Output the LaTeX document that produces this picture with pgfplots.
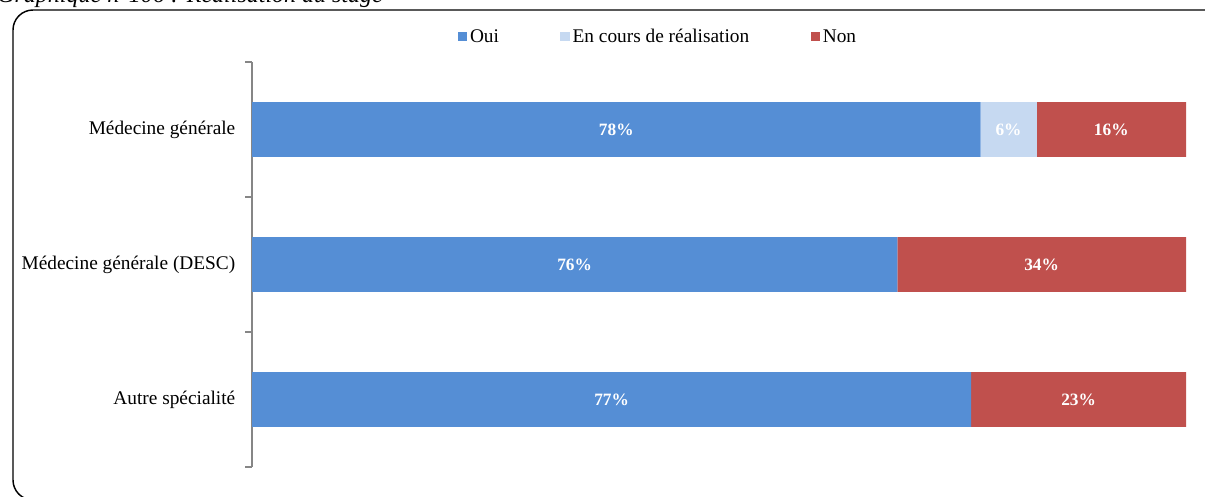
\documentclass[border=0pt]{standalone}
\usepackage{fontspec}
\setmainfont{Liberation Serif}
\usepackage{pgfplots}
\pgfplotsset{compat=1.18}
\definecolor{oui}{RGB}{85,142,213}
\definecolor{encours}{RGB}{198,217,241}
\definecolor{non}{RGB}{192,80,77}
\definecolor{axisgray}{RGB}{134,134,134}

\begin{document}
\begin{tikzpicture}[x=0.75pt,y=0.75pt]
\useasboundingbox (0,0) rectangle (1205,496);
\clip (0,0) rectangle (1205,496);
% cadre et titre (coupes comme dans l'original)
\draw[line width=1.1pt, rounded corners=15pt] (13,-4) rectangle (1240,486);
\node[anchor=base west, inner sep=0, font=\itshape\fontsize{18}{20}\selectfont] at (-3,493) {Graphique n°106 : Réalisation du stage};

\begin{axis}[
    at={(189pt,21.75pt)}, anchor=south west,
    scale only axis, width=700.5pt, height=303.75pt,
    xbar stacked, bar width=41pt,
    xmin=0, xmax=100, ymin=-0.5, ymax=2.5,
    axis x line=none, axis y line*=left,
    y axis line style={draw=axisgray, line width=1pt},
    ytick={0,1,2},
    yticklabels={Autre spécialité, Médecine générale (DESC), Médecine générale},
    major tick length=0pt,
    minor ytick={-0.5,0.5,1.5,2.5}, minor tick length=5pt, tick align=outside,
    minor tick style={draw=axisgray, line width=1pt},
    yticklabel style={font=\fontsize{14.5}{16}\selectfont, xshift=-9pt},
    legend columns=3,
    legend style={draw=none, fill=none, at={(0.435,1.062)}, anchor=center,
        font=\fontsize{14.5}{16}\selectfont,
        /tikz/every even column/.append style={column sep=44pt}},
    legend image code/.code={\fill[#1] (0pt,-3.4pt) rectangle (7.2pt,3.8pt);},
    nodes near coords, point meta=explicit symbolic,
    nodes near coords align={center},
    every node near coord/.style={text=white, font=\bfseries\fontsize{13}{15}\selectfont},
    clip=false,
]
% DESC : 76 % et 34 %, barre ramenee a 100 %
\addplot[draw=none, fill=oui] coordinates {(77,0)[77\%] (69.09,1)[76\%] (78,2)[78\%]};
\addplot[draw=none, fill=encours] coordinates {(0,0)[] (0,1)[] (6,2)[6\%]};
\addplot[draw=none, fill=non] coordinates {(23,0)[23\%] (30.91,1)[34\%] (16,2)[16\%]};
\legend{Oui, En cours de réalisation, Non}
\end{axis}
\end{tikzpicture}
\end{document}
